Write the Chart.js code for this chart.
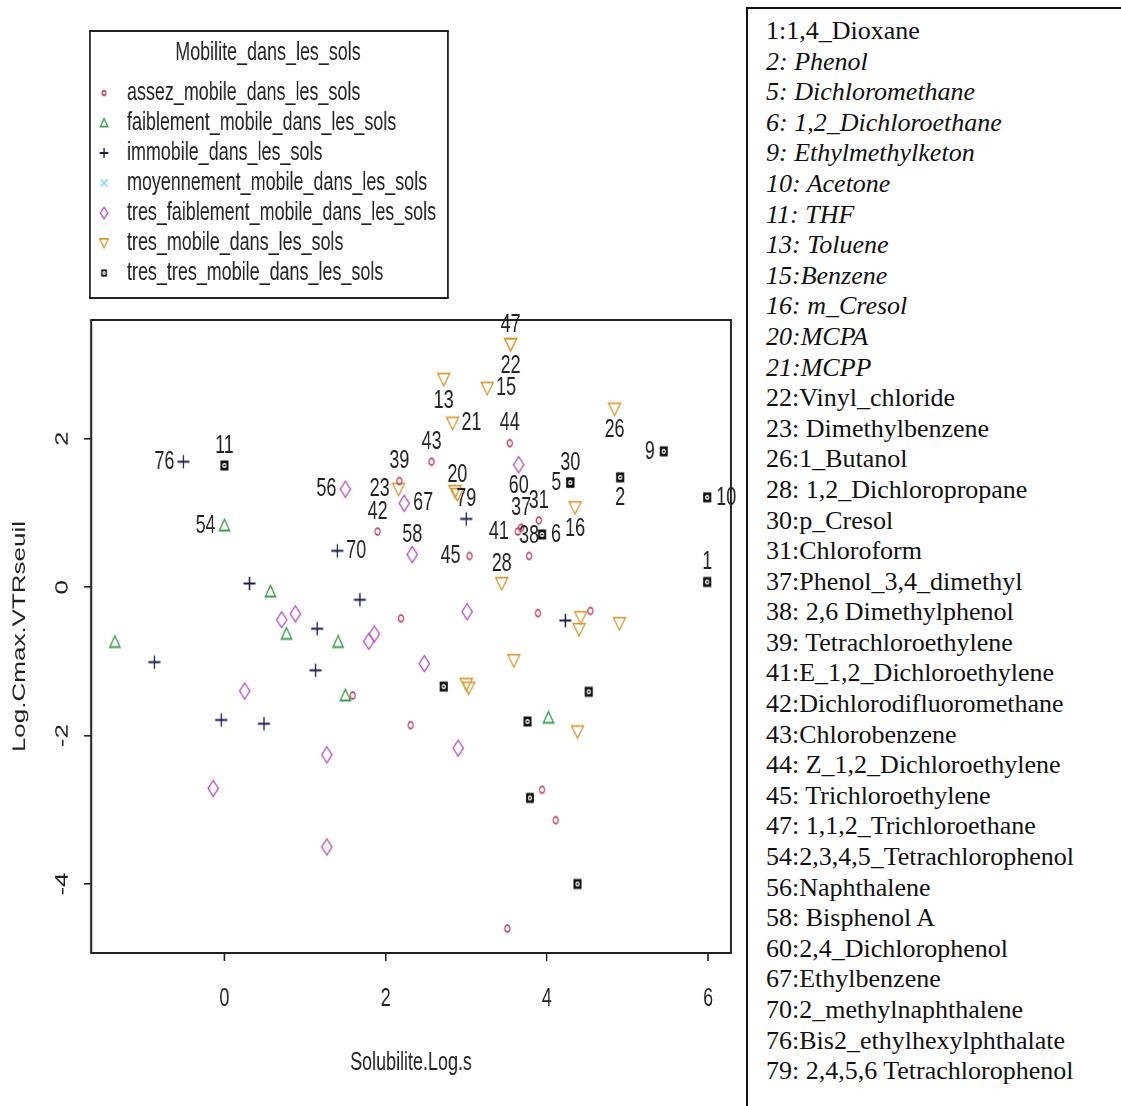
<!DOCTYPE html>
<html>
<head>
<meta charset="utf-8">
<script src="https://cdn.jsdelivr.net/npm/chart.js@4.4.1/dist/chart.umd.min.js"></script>
<style>
  body { margin: 0; background: #fff; width: 1121px; height: 1106px; overflow: hidden; position: relative; }
  /* le graphique R est resserre horizontalement */
  #zone { position: absolute; left: 0; top: 0; width: 1080px; height: 1106px; transform: scaleX(0.69); transform-origin: 0 0; }
  #liste {
    position: absolute; left: 746px; top: 7px; width: 420px; height: 1120px;
    border-left: 2px solid #111; border-top: 2px solid #111; box-sizing: border-box;
    padding: 7px 0 0 18px; background: #fff;
    font-family: 'Liberation Serif', 'Times New Roman', serif; font-size: 26px; line-height: 30.6px; color: #111;
  }
  #liste div { white-space: nowrap; }
  #liste .it { font-style: italic; }
</style>
</head>
<body>
<div id="zone"><canvas id="graphe" width="1080" height="1106"></canvas></div>
<div id="liste"></div>
<script>
const mobilites = [
  'assez_mobile_dans_les_sols',
  'faiblement_mobile_dans_les_sols',
  'immobile_dans_les_sols',
  'moyennement_mobile_dans_les_sols',
  'tres_faiblement_mobile_dans_les_sols',
  'tres_mobile_dans_les_sols',
  'tres_tres_mobile_dans_les_sols'
];

// [Solubilite.Log.s, Log.Cmax.VTRseuil, numero du compose ('' = non identifie)]
const assezMobile = [
  [2.17, 1.43, '39'], [1.90, 0.75, '42'], [2.57, 1.69, '43'], [3.04, 0.42, '45'], [3.54, 1.94, '44'],
  [3.64, 0.75, '41'], [3.68, 0.80, '37'], [3.90, 0.90, '31'], [3.78, 0.42, '38'],
  [2.19, -0.42, ''], [1.59, -1.46, ''], [2.31, -1.86, ''], [3.89, -0.35, ''], [4.54, -0.32, ''],
  [3.94, -2.73, ''], [4.11, -3.14, ''], [3.51, -4.60, '']
];
const faiblementMobile = [
  [0.00, 0.83, '54'], [0.57, -0.06, ''], [-1.36, -0.74, ''], [0.77, -0.63, ''],
  [1.41, -0.74, ''], [1.50, -1.46, ''], [4.02, -1.76, '']
];
const immobile = [
  [-0.51, 1.69, '76'], [1.40, 0.49, '70'], [3.00, 0.92, '79'], [0.31, 0.05, ''], [1.68, -0.17, ''],
  [1.15, -0.56, ''], [-0.87, -1.01, ''], [1.13, -1.12, ''], [-0.04, -1.79, ''], [0.49, -1.84, ''],
  [4.23, -0.45, '']
];
const moyennementMobile = [];
const tresFaiblementMobile = [
  [1.50, 1.32, '56'], [2.23, 1.13, '67'], [2.33, 0.44, '58'], [3.65, 1.65, '60'], [0.71, -0.44, ''],
  [0.88, -0.36, ''], [1.79, -0.73, ''], [1.86, -0.63, ''], [0.25, -1.40, ''], [1.27, -2.26, ''],
  [-0.14, -2.71, ''], [1.27, -3.50, ''], [2.48, -1.03, ''], [3.01, -0.33, ''], [2.90, -2.17, '']
];
const tresMobile = [
  [3.55, 3.27, '47'], [3.55, 3.27, '22'], [2.72, 2.80, '13'], [3.26, 2.68, '15'], [2.83, 2.21, '21'],
  [4.84, 2.40, '26'], [2.16, 1.32, '23'], [2.89, 1.25, '20'], [2.86, 1.29, ''], [4.35, 1.07, '16'],
  [3.44, 0.05, '28'], [4.42, -0.41, ''], [4.40, -0.57, ''], [4.90, -0.49, ''], [3.59, -0.99, ''],
  [3.00, -1.31, ''], [3.03, -1.36, ''], [4.38, -1.95, '']
];
const tresTresMobile = [
  [0.00, 1.64, '11'], [4.29, 1.41, '30'], [4.29, 1.41, '5'], [4.91, 1.48, '2'], [5.45, 1.83, '9'],
  [5.99, 1.21, '10'], [5.99, 0.07, '1'], [3.94, 0.71, '6'], [2.72, -1.34, ''], [4.52, -1.41, ''],
  [3.76, -1.81, ''], [3.79, -2.84, ''], [4.38, -4.00, '']
];

const xTicks = [0, 2, 4, 6];
const yTicks = [-4, -2, 0, 2];

const composes = [
  '1:1,4_Dioxane', '2: Phenol', '5: Dichloromethane', '6: 1,2_Dichloroethane', '9: Ethylmethylketon',
  '10: Acetone', '11: THF', '13: Toluene', '15:Benzene', '16: m_Cresol', '20:MCPA', '21:MCPP',
  '22:Vinyl_chloride', '23: Dimethylbenzene', '26:1_Butanol', '28: 1,2_Dichloropropane', '30:p_Cresol',
  '31:Chloroform', '37:Phenol_3,4_dimethyl', '38: 2,6 Dimethylphenol', '39: Tetrachloroethylene',
  '41:E_1,2_Dichloroethylene', '42:Dichlorodifluoromethane', '43:Chlorobenzene',
  '44: Z_1,2_Dichloroethylene', '45: Trichloroethylene', '47: 1,1,2_Trichloroethane',
  '54:2,3,4,5_Tetrachlorophenol', '56:Naphthalene', '58: Bisphenol A', '60:2,4_Dichlorophenol',
  '67:Ethylbenzene', '70:2_methylnaphthalene', '76:Bis2_ethylhexylphthalate', '79: 2,4,5,6 Tetrachlorophenol'
];
const composesItalique = [1, 2, 3, 4, 5, 6, 7, 8, 9, 10, 11];

// cote ou s'ecrit chaque numero (comme identify() dans R)
const coteEtiquette = {
  '76': 'left', '11': 'above', '54': 'left', '56': 'left', '39': 'above', '23': 'left', '42': 'above',
  '67': 'right', '58': 'above', '70': 'right', '43': 'above', '13': 'below', '15': 'right', '21': 'right',
  '47': 'above', '22': 'below', '44': 'above', '20': 'above', '79': 'above', '45': 'left', '60': 'below',
  '37': 'above', '41': 'left', '38': 'above', '31': 'above', '6': 'right', '30': 'above', '5': 'left',
  '16': 'below', '2': 'below', '26': 'below', '9': 'left', '10': 'right', '1': 'above', '28': 'above'
};

const series = [assezMobile, faiblementMobile, immobile, moyennementMobile, tresFaiblementMobile, tresMobile, tresTresMobile];
const formes = ['rond', 'triangle', 'plus', 'croix', 'losange', 'triangleBas', 'carre'];
const couleurs = ['#bf4060', '#3d9e50', '#1c1c4c', '#86d8e2', '#b854c0', '#d69c38', '#111111'];

const POLICE = "'Liberation Sans', Arial, sans-serif";
const TAILLE = 26;

// liste des composes a droite
const liste = document.getElementById('liste');
composes.forEach((txt, i) => {
  const d = document.createElement('div');
  d.textContent = txt;
  if (composesItalique.includes(i)) d.className = 'it';
  liste.appendChild(d);
});

// symboles pch de R (le canvas est ensuite resserre a 0.69 en largeur)
function marqueur(forme, couleur, k) {
  const c = document.createElement('canvas');
  c.width = Math.ceil(22 * k) + 4;
  c.height = Math.ceil(19 * k) + 4;
  const g = c.getContext('2d');
  g.translate(c.width / 2, c.height / 2);
  g.strokeStyle = couleur;
  g.fillStyle = couleur;
  g.lineWidth = 1.8;
  g.beginPath();
  if (forme === 'rond') {
    g.ellipse(0, 0, 3.7 * k, 3.4 * k, 0, 0, 2 * Math.PI);
  } else if (forme === 'triangle') {
    g.moveTo(0, -6.3 * k); g.lineTo(7.4 * k, 5 * k); g.lineTo(-7.4 * k, 5 * k); g.closePath();
  } else if (forme === 'plus') {
    g.lineWidth = 2;
    g.moveTo(-8.7 * k, 0); g.lineTo(8.7 * k, 0); g.moveTo(0, -6.8 * k); g.lineTo(0, 6.8 * k);
  } else if (forme === 'croix') {
    g.moveTo(-7 * k, -5 * k); g.lineTo(7 * k, 5 * k); g.moveTo(7 * k, -5 * k); g.lineTo(-7 * k, 5 * k);
  } else if (forme === 'losange') {
    g.moveTo(0, -8 * k); g.lineTo(7.4 * k, 0); g.lineTo(0, 8 * k); g.lineTo(-7.4 * k, 0); g.closePath();
  } else if (forme === 'triangleBas') {
    g.moveTo(0, 6.5 * k); g.lineTo(8.7 * k, -5.8 * k); g.lineTo(-8.7 * k, -5.8 * k); g.closePath();
  } else if (forme === 'carre') {
    g.fillRect(-5.8 * k, -5 * k, 11.6 * k, 10 * k);
    g.strokeStyle = '#fff';
    g.lineWidth = 1.4;
    g.ellipse(0, 0, 2.4 * k, 1.8 * k, 0, 0, 2 * Math.PI);
  }
  g.stroke();
  return c;
}

const symbolesGraphe = formes.map((f, i) => marqueur(f, couleurs[i], 1));
const symbolesLegende = formes.map((f, i) => marqueur(f, couleurs[i], 0.72));

const datasets = series.map((pts, i) => ({
  label: mobilites[i],
  data: pts.map(p => ({ x: p[0], y: p[1], num: p[2] })),
  pointStyle: symbolesGraphe[i],
  pointRadius: 6,
  showLine: false
}));

// bords horizontaux et verticaux a epaisseur differente pour compenser le resserrement
function cadre(ctx, x0, y0, x1, y1, epH, epV) {
  ctx.beginPath();
  ctx.lineWidth = epH;
  ctx.moveTo(x0 - epV / 2, y0); ctx.lineTo(x1 + epV / 2, y0);
  ctx.moveTo(x0 - epV / 2, y1); ctx.lineTo(x1 + epV / 2, y1);
  ctx.stroke();
  ctx.beginPath();
  ctx.lineWidth = epV;
  ctx.moveTo(x0, y0); ctx.lineTo(x0, y1);
  ctx.moveTo(x1, y0); ctx.lineTo(x1, y1);
  ctx.stroke();
}

const cadreEtLegende = {
  id: 'cadreEtLegende',
  afterDatasetsDraw(chart) {
    const ctx = chart.ctx;
    const a = chart.chartArea;
    ctx.save();
    ctx.strokeStyle = '#222';
    cadre(ctx, a.left, a.top, a.right, a.bottom, 2, 2.9);

    // numeros des composes identifies
    ctx.font = TAILLE + 'px ' + POLICE;
    ctx.fillStyle = '#222';
    ctx.textBaseline = 'middle';
    chart.data.datasets.forEach((ds, i) => {
      const meta = chart.getDatasetMeta(i);
      ds.data.forEach((d, j) => {
        if (!d.num) return;
        const el = meta.data[j];
        const cote = coteEtiquette[d.num] || 'above';
        if (cote === 'above') { ctx.textAlign = 'center'; ctx.fillText(d.num, el.x, el.y - 20); }
        else if (cote === 'below') { ctx.textAlign = 'center'; ctx.fillText(d.num, el.x, el.y + 21); }
        else if (cote === 'left') { ctx.textAlign = 'right'; ctx.fillText(d.num, el.x - 13, el.y); }
        else { ctx.textAlign = 'left'; ctx.fillText(d.num, el.x + 13, el.y); }
      });
    });

    // legende en haut a gauche
    cadre(ctx, 130.4, 31, 649.3, 298, 1.8, 2.6);
    ctx.textAlign = 'center';
    ctx.fillText('Mobilite_dans_les_sols', 388.4, 53);
    ctx.textAlign = 'left';
    mobilites.forEach((m, i) => {
      const y = 93 + i * 30;
      const s = symbolesLegende[i];
      ctx.drawImage(s, 150.7 - s.width / 2, y - s.height / 2);
      ctx.fillText(m, 184, y);
    });
    ctx.restore();
  }
};

new Chart(document.getElementById('graphe'), {
  type: 'scatter',
  data: { datasets },
  options: {
    responsive: false,
    animation: false,
    devicePixelRatio: 1,
    events: [],
    layout: { padding: { top: 320, right: 20.6, left: 0, bottom: 0 } },
    plugins: { legend: { display: false }, tooltip: { enabled: false } },
    scales: {
      x: {
        type: 'linear',
        min: -1.655,
        max: 6.285,
        afterBuildTicks: s => { s.ticks = xTicks.map(v => ({ value: v })); },
        afterFit: s => { s.height = 153; },
        border: { display: false },
        grid: { display: true, drawOnChartArea: false, drawTicks: true, tickLength: 8, tickColor: '#222', lineWidth: 2.3 },
        ticks: { color: '#222', padding: 22, font: { family: POLICE, size: TAILLE } },
        title: { display: true, text: 'Solubilite.Log.s', color: '#222', font: { family: POLICE, size: TAILLE }, padding: { top: 0, bottom: 28 } }
      },
      y: {
        type: 'linear',
        min: -4.93,
        max: 3.60,
        afterBuildTicks: s => { s.ticks = yTicks.map(v => ({ value: v })); },
        afterFit: s => { s.width = 132; },
        border: { display: false },
        grid: { display: true, drawOnChartArea: false, drawTicks: true, tickLength: 10, tickColor: '#222', lineWidth: 1.6 },
        ticks: { color: '#222', padding: 20, crossAlign: 'center', minRotation: 90, maxRotation: 90, font: { family: POLICE, size: TAILLE } },
        title: { display: true, text: 'Log.Cmax.VTRseuil', color: '#222', font: { family: POLICE, size: TAILLE }, padding: { top: 13, bottom: 0 } }
      }
    }
  },
  plugins: [cadreEtLegende]
});
</script>
</body>
</html>
